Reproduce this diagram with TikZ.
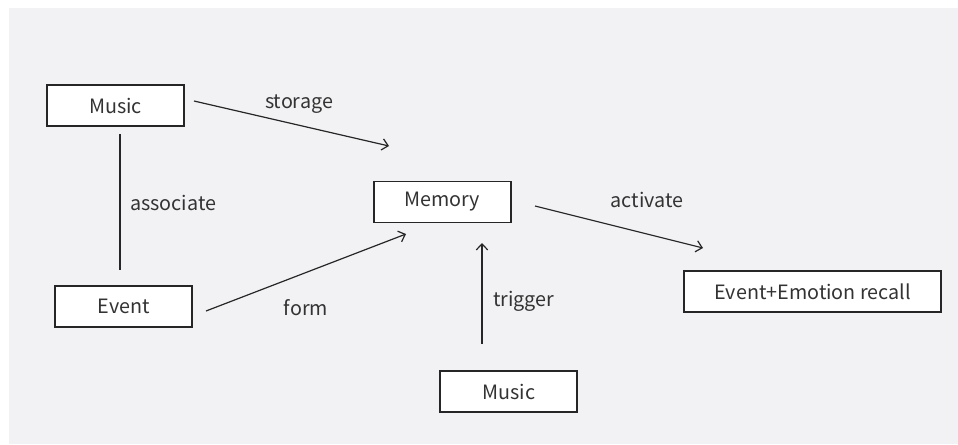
\documentclass[tikz,border=0pt]{standalone}
\usepackage{fontspec}
\setmainfont{Noto Sans CJK SC}
\usepackage{tikz}
\usetikzlibrary{arrows.meta}

\definecolor{bggray}{RGB}{242,242,244}
\definecolor{inkgray}{RGB}{51,51,51}

\tikzset{
  box/.style={draw=black!85, line width=1.3pt, fill=white, text=inkgray,
    minimum width=102.75pt, minimum height=30.75pt, inner sep=0pt,
    font=\fontsize{14.8pt}{17pt}\selectfont},
  lbl/.style={text=inkgray, inner sep=0pt, font=\fontsize{14.8pt}{17pt}\selectfont},
  link/.style={draw=black!85, line width=0.9pt},
  >={Straight Barb[length=4.5pt,width=8.5pt,line width=0.9pt]}
}

\begin{document}
\begin{tikzpicture}[x=0.75pt, y=-0.75pt]
  % canvas and backdrop
  \useasboundingbox (0,0) rectangle (958,444);
  \fill[bggray] (9,8) rectangle (958,444);

  % boxes
  \node[box] (music) at (115.5,105.5) {Music};
  \node[box] (event) at (123.7,306.7) {Event};
  \node[box] (memory) at (442.3,202) {Memory};
  \node[box] (trigmusic) at (508.7,391.7) {Music};
  \node[box, minimum width=192.75pt] (recall) at (812.7,291.7) {Event+Emotion recall};

  % free ends of the connectors
  \coordinate (assocA) at (120,134);
  \coordinate (assocB) at (120,270);
  \coordinate (storeA) at (194,101);
  \coordinate (storeB) at (389,146);
  \coordinate (formA) at (206,311);
  \coordinate (formB) at (406,234);
  \coordinate (trigA) at (482,344);
  \coordinate (trigB) at (482,243);
  \coordinate (actA) at (535,206);
  \coordinate (actB) at (703,248);

  % connectors
  \draw[link] (assocA) -- (assocB);
  \draw[link, ->] (storeA) -- (storeB);
  \draw[link, ->] (formA) -- (formB);
  \draw[link, ->] (trigA) -- (trigB);
  \draw[link, ->] (actA) -- (actB);

  % labels
  \node[lbl] (storagelbl) at (299,104) {storage};
  \node[lbl, anchor=west] (assoclbl) at (130,203) {associate};
  \node[lbl] (formlbl) at (306,308) {form};
  \node[lbl, anchor=west] (triglbl) at (493,301) {trigger};
  \node[lbl] (actlbl) at (647,200) {activate};
\end{tikzpicture}
\end{document}
